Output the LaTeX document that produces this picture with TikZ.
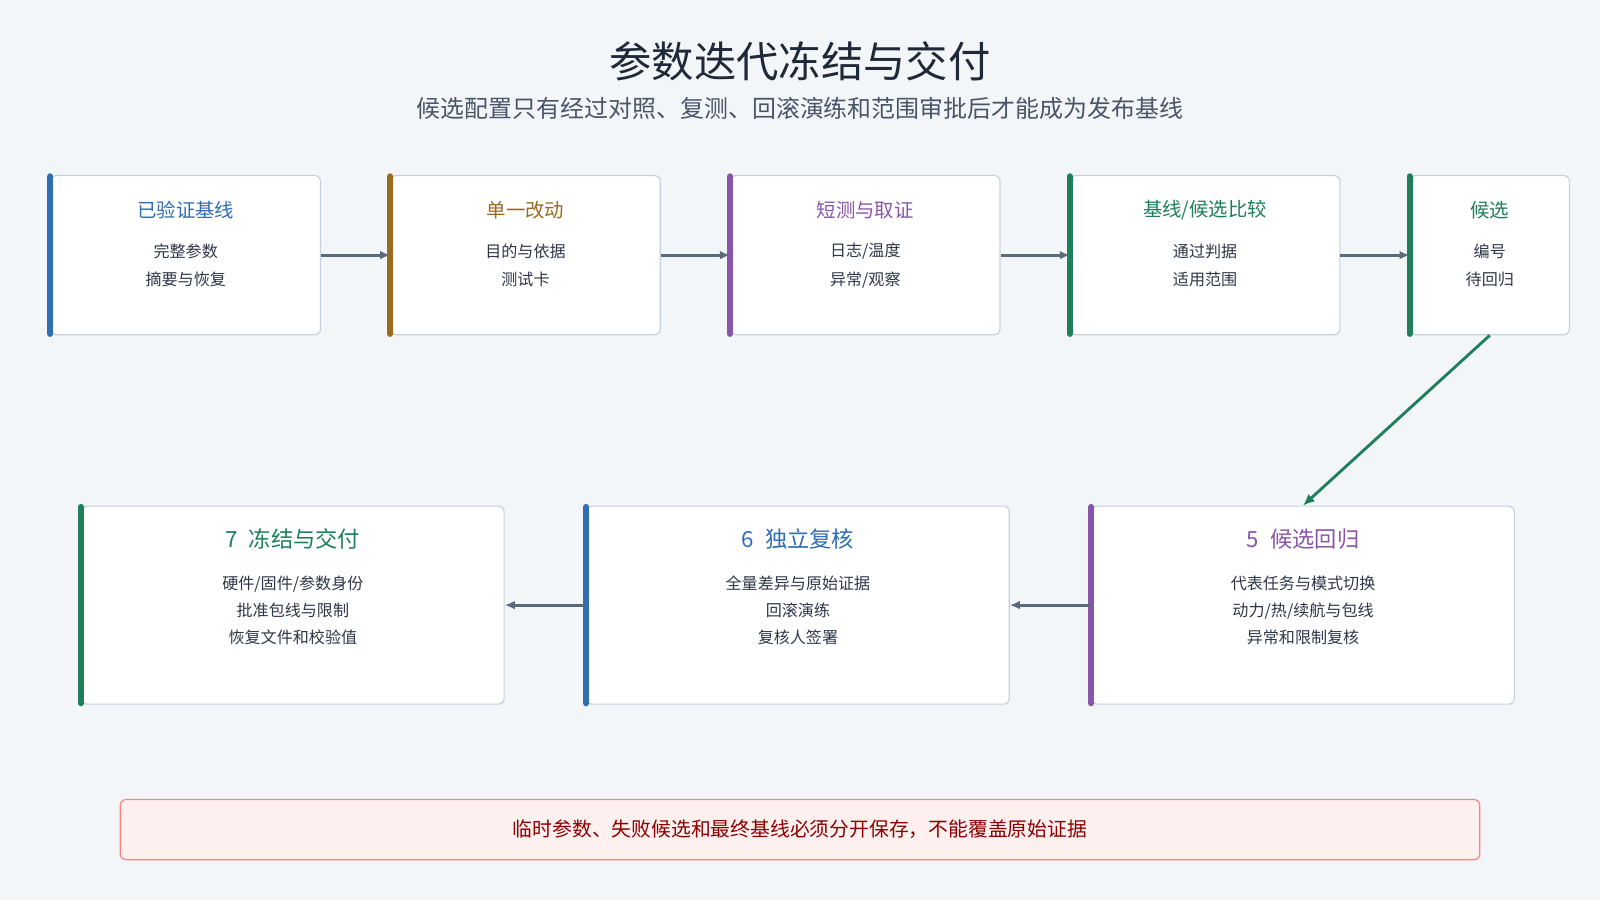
\documentclass[tikz,border=0pt]{standalone}
\usepackage{fontspec}
\setmainfont{Noto Sans CJK SC}
\usetikzlibrary{arrows.meta}
\usetikzlibrary{calc}
\definecolor{bg}{HTML}{F3F6F9}
\definecolor{edge}{HTML}{C5D0DD}
\definecolor{cblue}{HTML}{2F6DB5}
\definecolor{cbrown}{HTML}{9A6A1E}
\definecolor{cpurple}{HTML}{8A55A8}
\definecolor{cgreen}{HTML}{1E7F5A}
\definecolor{flowgray}{HTML}{5A6A7A}
\definecolor{inktext}{HTML}{2D3748}
\definecolor{headtext}{HTML}{1F2937}
\definecolor{subtext}{HTML}{4A5568}
\begin{document}
\begin{tikzpicture}[x=0.025cm, y=-0.025cm,
        card_style/.style={draw=edge, fill=white, rounded corners=4pt, line width=0.8pt},
        small_card/.style={card_style, minimum width=6.6cm, minimum height=3.9cm},
        last_card/.style={card_style, minimum width=3.9cm, minimum height=3.9cm},
        wide_card/.style={card_style, minimum width=10.35cm, minimum height=4.85cm},
        bar_style/.style={line width=4.3pt, line cap=round, shorten >=1pt, shorten <=1pt, xshift=2pt},
        head_style/.style={font=\fontsize{13.5}{16}\selectfont},
        big_head_style/.style={font=\fontsize{15.5}{18}\selectfont},
        line_style/.style={text=inktext, font=\fontsize{11.2}{13}\selectfont, align=center},
        flow_style/.style={draw=flowgray, line width=2pt, -{Latex[length=7pt,width=6pt]}}]

        \fill[bg] (0,0) rectangle (1568,882);

        \node[font=\fontsize{29.5}{34}\selectfont, text=headtext] (title) at (784,60) {参数迭代冻结与交付};
        \node[font=\fontsize{16.7}{20}\selectfont, text=subtext] (subtitle) at (784,106) {候选配置只有经过对照、复测、回滚演练和范围审批后才能成为发布基线};

        % top row
        \node[small_card] (c1) at (182,250) {};
        \node[small_card] (c2) at (515,250) {};
        \node[small_card] (c3) at (848,250) {};
        \node[small_card] (c4) at (1181,250) {};
        \node[last_card] (c5) at (1460,250) {};

        \draw[bar_style, cblue] (c1.north west) -- (c1.south west);
        \draw[bar_style, cbrown] (c2.north west) -- (c2.south west);
        \draw[bar_style, cpurple] (c3.north west) -- (c3.south west);
        \draw[bar_style, cgreen] (c4.north west) -- (c4.south west);
        \draw[bar_style, cgreen] (c5.north west) -- (c5.south west);

        \node[head_style, text=cblue] (h1) at (182,206) {已验证基线};
        \node[line_style] (t1) at (182,260) {完整参数\\[7pt]摘要与恢复};
        \node[head_style, text=cbrown] (h2) at (515,206) {单一改动};
        \node[line_style] (t2) at (515,260) {目的与依据\\[7pt]测试卡};
        \node[head_style, text=cpurple] (h3) at (848,206) {短测与取证};
        \node[line_style] (t3) at (848,260) {日志/温度\\[7pt]异常/观察};
        \node[head_style, text=cgreen] (h4) at (1181,206) {基线/候选比较};
        \node[line_style] (t4) at (1181,260) {通过判据\\[7pt]适用范围};
        \node[head_style, text=cgreen] (h5) at (1460,206) {候选};
        \node[line_style] (t5) at (1460,260) {编号\\[7pt]待回归};

        \draw[flow_style] (c1.east) -- (c2.west);
        \draw[flow_style] (c2.east) -- (c3.west);
        \draw[flow_style] (c3.east) -- (c4.west);
        \draw[flow_style] (c4.east) -- (c5.west);

        % bottom row
        \node[wide_card] (r5) at (1277,593) {};
        \node[wide_card] (r6) at (782,593) {};
        \node[wide_card] (r7) at (287,593) {};

        \draw[bar_style, cpurple] (r5.north west) -- (r5.south west);
        \draw[bar_style, cblue] (r6.north west) -- (r6.south west);
        \draw[bar_style, cgreen] (r7.north west) -- (r7.south west);

        \node[big_head_style, text=cpurple] (g5) at (1277,528) {5\enspace 候选回归};
        \node[line_style] (s5) at (1277,598) {代表任务与模式切换\\[6pt]动力/热/续航与包线\\[6pt]异常和限制复核};
        \node[big_head_style, text=cblue] (g6) at (782,528) {6\enspace 独立复核};
        \node[line_style] (s6) at (782,598) {全量差异与原始证据\\[6pt]回滚演练\\[6pt]复核人签署};
        \node[big_head_style, text=cgreen] (g7) at (287,528) {7\enspace 冻结与交付};
        \node[line_style] (s7) at (287,598) {硬件/固件/参数身份\\[6pt]批准包线与限制\\[6pt]恢复文件和校验值};

        \draw[cgreen, line width=2pt, -{Latex[length=8pt,width=7pt]}] (c5.south) -- (r5.north);
        \draw[flow_style] (r5.west) -- (r6.east);
        \draw[flow_style] (r6.west) -- (r7.east);

        % note
        \node[draw=red!50, fill=red!6, rounded corners=4pt, line width=0.8pt,
              minimum width=33.3cm, minimum height=1.475cm,
              text=red!55!black, font=\fontsize{13.8}{16}\selectfont] (note) at (784,813)
              {临时参数、失败候选和最终基线必须分开保存，不能覆盖原始证据};
\end{tikzpicture}
\end{document}
